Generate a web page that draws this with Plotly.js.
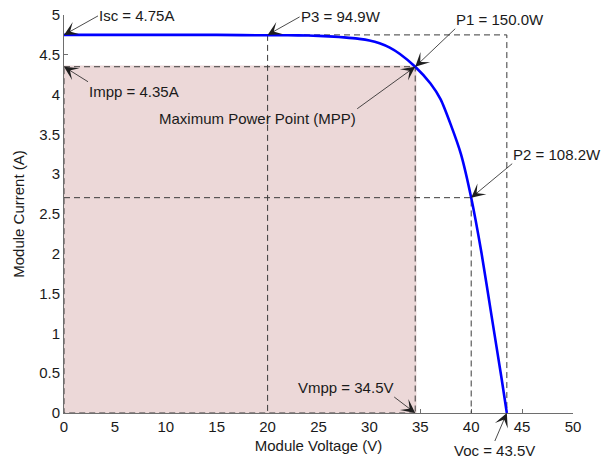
<!DOCTYPE html>
<html>
<head>
<meta charset="utf-8">
<script src="https://cdn.plot.ly/plotly-3.0.1.min.js"></script>
<style>html,body{margin:0;padding:0;background:#fff;}#chart{width:603px;height:463px;}</style>
</head>
<body>
<div id="chart"></div>
<script>
// I-V curve of the PV module
const voltage = [0, 5, 10, 15, 20, 22, 24, 25, 26, 27, 28, 29, 30, 31, 32, 33, 34.5, 36, 37, 38, 39, 40, 41, 42, 43, 43.5];
const current = [4.75, 4.75, 4.75, 4.75, 4.745, 4.745, 4.742, 4.738, 4.732, 4.724, 4.713, 4.70, 4.68, 4.645, 4.59, 4.51, 4.35, 4.14, 3.94, 3.62, 3.25, 2.705, 2.02, 1.22, 0.42, 0];

// key points
const Isc = 4.75, Voc = 43.5;
const Vmpp = 34.5, Impp = 4.35;
const Vp2 = 40, Ip2 = 2.705;
const Vp3 = 20, Ip3 = 4.745;

const labels = {
  isc: 'Isc = 4.75A',
  p3: 'P3 = 94.9W',
  p1: 'P1 = 150.0W',
  mpp: 'Maximum Power Point (MPP)',
  p2: 'P2 = 108.2W',
  impp: 'Impp = 4.35A',
  vmpp: 'Vmpp = 34.5V',
  voc: 'Voc = 43.5V'
};

const xTicks = [0, 5, 10, 15, 20, 25, 30, 35, 40, 45, 50];
const yTicks = [0, 0.5, 1, 1.5, 2, 2.5, 3, 3.5, 4, 4.5, 5];

const FONT = 'Liberation Sans, Arial, Helvetica, sans-serif';

const rectTrace = {
  x: [0, Vmpp, Vmpp, 0, 0],
  y: [0, 0, Impp, Impp, 0],
  mode: 'lines', fill: 'toself', fillcolor: '#ecd8d8',
  line: {color: '#ecd8d8', width: 2.5},
  hoverinfo: 'skip', showlegend: false
};

const dashX = [0, Voc, Voc, null, Vp3, Vp3, null, 0, Vmpp, Vmpp, null, 0, Vp2, Vp2, null, Vmpp, 0, 0];
const dashY = [Isc, Isc, 0, null, Isc, 0, null, Impp, Impp, 0, null, Ip2, Ip2, 0, null, 0, 0, Impp];
const dashTrace = {
  x: dashX, y: dashY, mode: 'lines',
  line: {color: '#3a3a3a', width: 1, dash: '6px,4px'},
  connectgaps: false, hoverinfo: 'skip', showlegend: false
};

const curveTrace = {
  x: voltage, y: current, mode: 'lines',
  line: {color: '#0000ff', width: 2.6, shape: 'spline', smoothing: 0.6},
  hoverinfo: 'skip', showlegend: false
};

function ann(x, y, text, ax, ay, xa, ya) {
  return {
    x: x, y: y, xref: 'x', yref: 'y', text: text,
    showarrow: true, arrowhead: 3, arrowsize: 2.9, arrowwidth: 0.8, arrowcolor: '#1e1e1e',
    ax: ax, ay: ay, xanchor: xa, yanchor: ya,
    font: {family: FONT, size: 15, color: '#1a1a1a'}, borderpad: 0
  };
}

const annotations = [
  ann(0, Isc, labels.isc, 34, -19, 'left', 'middle'),
  ann(Vp3, Isc, labels.p3, 32, -18, 'left', 'middle'),
  ann(Vmpp, Impp, labels.p1, 40, -38, 'left', 'bottom'),
  ann(Vmpp, Impp, labels.mpp, -58, 42, 'right', 'top'),
  ann(Vp2, Ip2, labels.p2, 41, -34, 'left', 'bottom'),
  ann(0, Impp, labels.impp, 24, 15, 'left', 'top'),
  ann(Vmpp, 0, labels.vmpp, -21, -16, 'right', 'bottom'),
  ann(Voc, 0, labels.voc, -12, 28, 'center', 'top')
];

const axisCommon = {
  showline: true, linecolor: '#6e6e6e', linewidth: 1,
  ticks: 'inside', ticklen: 4, tickcolor: '#6e6e6e', tickwidth: 1,
  showgrid: false, zeroline: false, layer: 'below traces',
  tickfont: {family: FONT, size: 15, color: '#1a1a1a'},
  fixedrange: true
};

const layout = {
  width: 603, height: 463,
  margin: {l: 64, r: 30, t: 15, b: 50},
  paper_bgcolor: '#ffffff', plot_bgcolor: '#ffffff',
  showlegend: false,
  xaxis: Object.assign({}, axisCommon, {
    range: [0, 50], tickvals: xTicks, ticktext: xTicks.map(String),
    title: {text: 'Module Voltage (V)', font: {family: FONT, size: 15, color: '#1a1a1a'}, standoff: 6}
  }),
  yaxis: Object.assign({}, axisCommon, {
    range: [0, 5], tickvals: yTicks, ticktext: yTicks.map(String),
    title: {text: 'Module Current (A)', font: {family: FONT, size: 15, color: '#1a1a1a'}, standoff: 10}
  }),
  annotations: annotations
};

Plotly.newPlot('chart', [rectTrace, dashTrace, curveTrace], layout, {displayModeBar: false, staticPlot: true});
</script>
</body>
</html>
